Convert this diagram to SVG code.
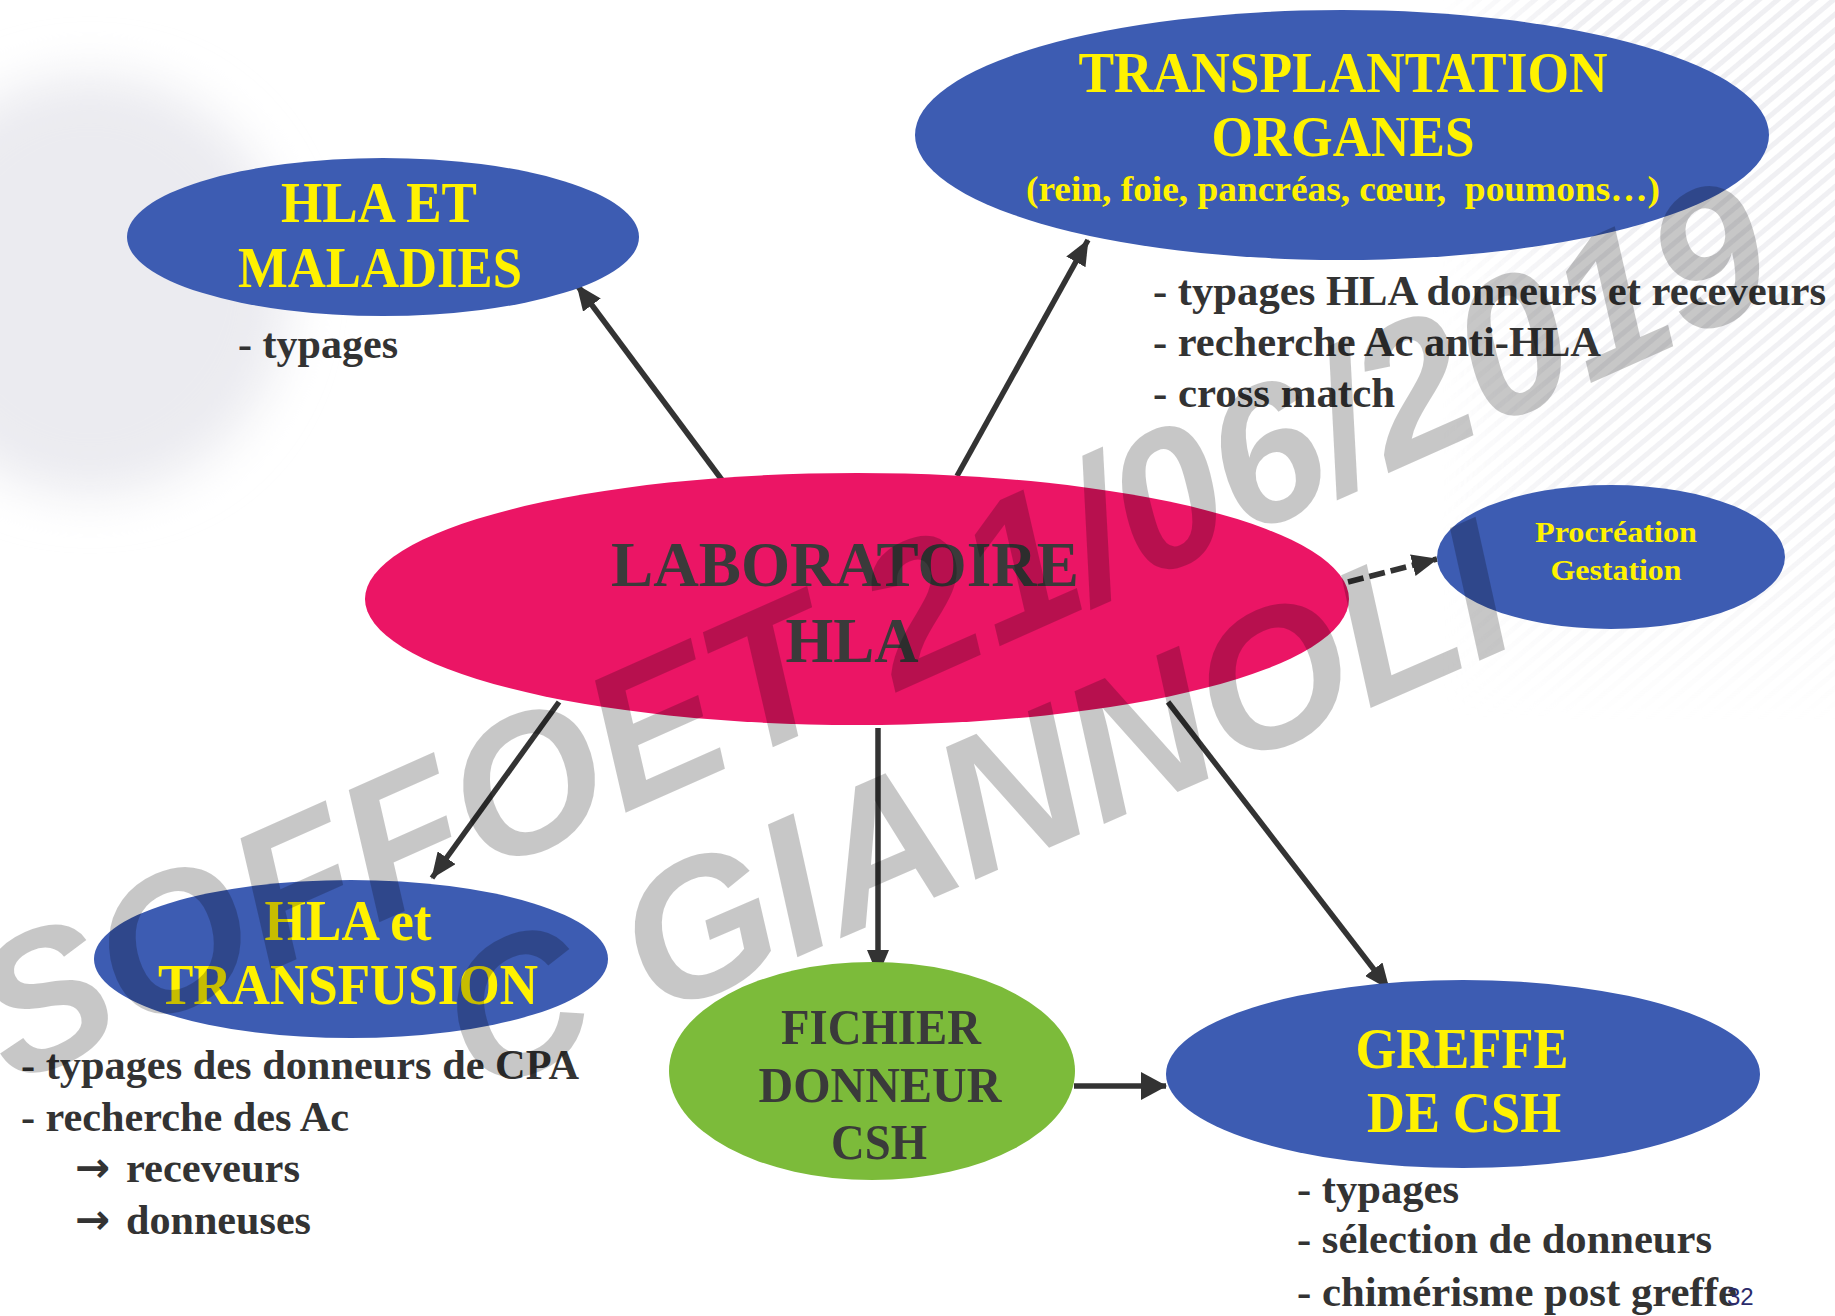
<svg xmlns="http://www.w3.org/2000/svg" width="1835" height="1316" viewBox="0 0 1835 1316">
<style>
.title{font-family:"Liberation Serif","Times New Roman",serif;font-weight:bold;fill:#FFF200;text-anchor:middle}
.dark{font-family:"Liberation Serif","Times New Roman",serif;font-weight:bold;fill:#3a3a3a;text-anchor:middle}
.bul{font-family:"Liberation Serif","Times New Roman",serif;font-weight:bold;fill:#333333;font-size:42px}
.arr{font-family:"DejaVu Sans","Liberation Sans",sans-serif;font-weight:bold;fill:#333333;font-size:42px}
.blue{fill:#3D5CB2}
.conn{stroke:#333333;stroke-width:5.5;fill:none}
.wm{font-family:"Liberation Sans",Arial,sans-serif;font-weight:bold;font-style:italic;font-size:194px;fill:#000;fill-opacity:0.22}
</style>
<defs>
<marker id="ah" markerUnits="userSpaceOnUse" markerWidth="26" markerHeight="22" viewBox="0 0 26 22" refX="25" refY="11" orient="auto">
<path d="M0,0 L26,11 L0,22 z" fill="#333333"/>
</marker>
<marker id="ahb" markerUnits="userSpaceOnUse" markerWidth="26" markerHeight="28" viewBox="0 0 26 28" refX="25" refY="14" orient="auto">
<path d="M0,0 L26,14 L0,28 z" fill="#333333"/>
</marker>
<filter id="blur" x="-50%" y="-50%" width="200%" height="200%"><feGaussianBlur stdDeviation="25"/></filter>
<pattern id="stripes" patternUnits="userSpaceOnUse" width="12" height="12" patternTransform="rotate(-40)">
<rect width="12" height="5" fill="#e2e2e8"/>
</pattern>
<linearGradient id="fadeL" x1="0" y1="0" x2="1" y2="0">
<stop offset="0" stop-color="#fff" stop-opacity="0"/>
<stop offset="0.35" stop-color="#fff" stop-opacity="1"/>
<stop offset="1" stop-color="#fff" stop-opacity="1"/>
</linearGradient>
<linearGradient id="fadeV" x1="0" y1="0" x2="0" y2="1">
<stop offset="0" stop-color="#fff" stop-opacity="1"/>
<stop offset="0.7" stop-color="#fff" stop-opacity="0.8"/>
<stop offset="1" stop-color="#fff" stop-opacity="0"/>
</linearGradient>
<mask id="stripeMask" maskUnits="userSpaceOnUse" x="1440" y="0" width="395" height="720">
<rect x="1440" y="0" width="395" height="720" fill="url(#fadeL)"/>
</mask>
<mask id="stripeMaskV" maskUnits="userSpaceOnUse" x="1440" y="0" width="395" height="720">
<rect x="1440" y="0" width="395" height="720" fill="url(#fadeV)"/>
</mask>
</defs>
<rect width="1835" height="1316" fill="#ffffff"/>
<g id="background">
<ellipse cx="90" cy="285" rx="200" ry="210" fill="#ebebf0" filter="url(#blur)"/>
<g mask="url(#stripeMaskV)">
<rect x="1440" y="0" width="395" height="720" fill="url(#stripes)" opacity="0.55" mask="url(#stripeMask)"/>
</g>
</g>
<g id="connectors">
<line class="conn" x1="722" y1="480" x2="577" y2="285" marker-end="url(#ah)"/>
<line class="conn" x1="957" y1="476" x2="1088" y2="240" marker-end="url(#ah)"/>
<line class="conn" x1="559" y1="702" x2="432" y2="878" marker-end="url(#ah)"/>
<line class="conn" x1="878" y1="728" x2="878" y2="975" marker-end="url(#ah)"/>
<line class="conn" x1="1168" y1="702" x2="1389" y2="989" marker-end="url(#ah)"/>
<line class="conn" x1="1074" y1="1086" x2="1166" y2="1086" stroke-width="8" marker-end="url(#ahb)"/>
<line class="conn" x1="1348" y1="582" x2="1437" y2="559" stroke-dasharray="16 6" marker-end="url(#ah)"/>
</g>
<g id="node-hla-maladies">
<ellipse class="blue" cx="383" cy="237" rx="256" ry="79"/>
<text class="title" font-size="56" x="379" y="222" textLength="196" lengthAdjust="spacingAndGlyphs">HLA ET</text>
<text class="title" font-size="56" x="380" y="287" textLength="284" lengthAdjust="spacingAndGlyphs">MALADIES</text>
<text class="bul" x="238" y="358" textLength="160" lengthAdjust="spacingAndGlyphs">- typages</text>
</g>
<g id="node-transplantation">
<ellipse class="blue" cx="1342" cy="135" rx="427" ry="125"/>
<text class="title" font-size="56" x="1343" y="92" textLength="529" lengthAdjust="spacingAndGlyphs">TRANSPLANTATION</text>
<text class="title" font-size="56" x="1343" y="156" textLength="263" lengthAdjust="spacingAndGlyphs">ORGANES</text>
<text class="title" font-size="36" x="1343" y="201" textLength="634" lengthAdjust="spacingAndGlyphs">(rein, foie, pancréas, cœur,&#160; poumons…)</text>
<text class="bul" x="1153" y="305" textLength="673" lengthAdjust="spacingAndGlyphs">- typages HLA donneurs et receveurs</text>
<text class="bul" x="1153" y="356" textLength="448" lengthAdjust="spacingAndGlyphs">- recherche Ac anti-HLA</text>
<text class="bul" x="1153" y="407" textLength="242" lengthAdjust="spacingAndGlyphs">- cross match</text>
</g>
<g id="node-laboratoire">
<ellipse cx="857" cy="599" rx="492" ry="126" fill="#EB1565"/>
<text class="dark" font-size="64" x="845" y="586" textLength="468" lengthAdjust="spacingAndGlyphs">LABORATOIRE</text>
<text class="dark" font-size="64" x="852" y="662" textLength="133" lengthAdjust="spacingAndGlyphs">HLA</text>
</g>
<g id="node-procreation">
<ellipse class="blue" cx="1611" cy="557" rx="174" ry="72"/>
<text class="title" font-size="30" x="1616" y="542" textLength="162" lengthAdjust="spacingAndGlyphs">Procréation</text>
<text class="title" font-size="30" x="1616" y="580" textLength="131" lengthAdjust="spacingAndGlyphs">Gestation</text>
</g>
<g id="node-transfusion">
<ellipse class="blue" cx="351" cy="959" rx="257" ry="79"/>
<text class="title" font-size="56" x="348" y="940" textLength="167" lengthAdjust="spacingAndGlyphs">HLA et</text>
<text class="title" font-size="56" x="348" y="1004" textLength="380" lengthAdjust="spacingAndGlyphs">TRANSFUSION</text>
<text class="bul" x="21" y="1079" textLength="558" lengthAdjust="spacingAndGlyphs">- typages des donneurs de CPA</text>
<text class="bul" x="21" y="1131" textLength="328" lengthAdjust="spacingAndGlyphs">- recherche des Ac</text>
<text class="arr" x="75" y="1182">→</text>
<text class="bul" x="126" y="1182" textLength="174" lengthAdjust="spacingAndGlyphs">receveurs</text>
<text class="arr" x="75" y="1234">→</text>
<text class="bul" x="126" y="1234" textLength="185" lengthAdjust="spacingAndGlyphs">donneuses</text>
</g>
<g id="node-fichier">
<ellipse cx="872" cy="1071" rx="203" ry="109" fill="#7CBB3A"/>
<text class="dark" font-size="50" x="881" y="1044" textLength="200" lengthAdjust="spacingAndGlyphs">FICHIER</text>
<text class="dark" font-size="50" x="880" y="1102" textLength="243" lengthAdjust="spacingAndGlyphs">DONNEUR</text>
<text class="dark" font-size="50" x="879" y="1159" textLength="96" lengthAdjust="spacingAndGlyphs">CSH</text>
</g>
<g id="node-greffe">
<ellipse class="blue" cx="1463" cy="1074" rx="297" ry="94"/>
<text class="title" font-size="56" x="1462" y="1068" textLength="213" lengthAdjust="spacingAndGlyphs">GREFFE</text>
<text class="title" font-size="56" x="1464" y="1132" textLength="194" lengthAdjust="spacingAndGlyphs">DE CSH</text>
<text class="bul" x="1297" y="1203" textLength="162" lengthAdjust="spacingAndGlyphs">- typages</text>
<text class="bul" x="1297" y="1253" textLength="415" lengthAdjust="spacingAndGlyphs">- sélection de donneurs</text>
<text class="bul" x="1297" y="1306" textLength="440" lengthAdjust="spacingAndGlyphs">- chimérisme post greffe</text>
</g>
<text x="1727" y="1305" font-family="Liberation Sans, Arial, sans-serif" font-size="24" fill="#2b2b6b">32</text>
<g id="watermark">
<text class="wm" transform="translate(12,1086) rotate(-24)">SOFFOET 21/06/2019</text>
<text class="wm" transform="translate(478,1096) rotate(-23.5)">C GIANNOLI</text>
</g>
</svg>
